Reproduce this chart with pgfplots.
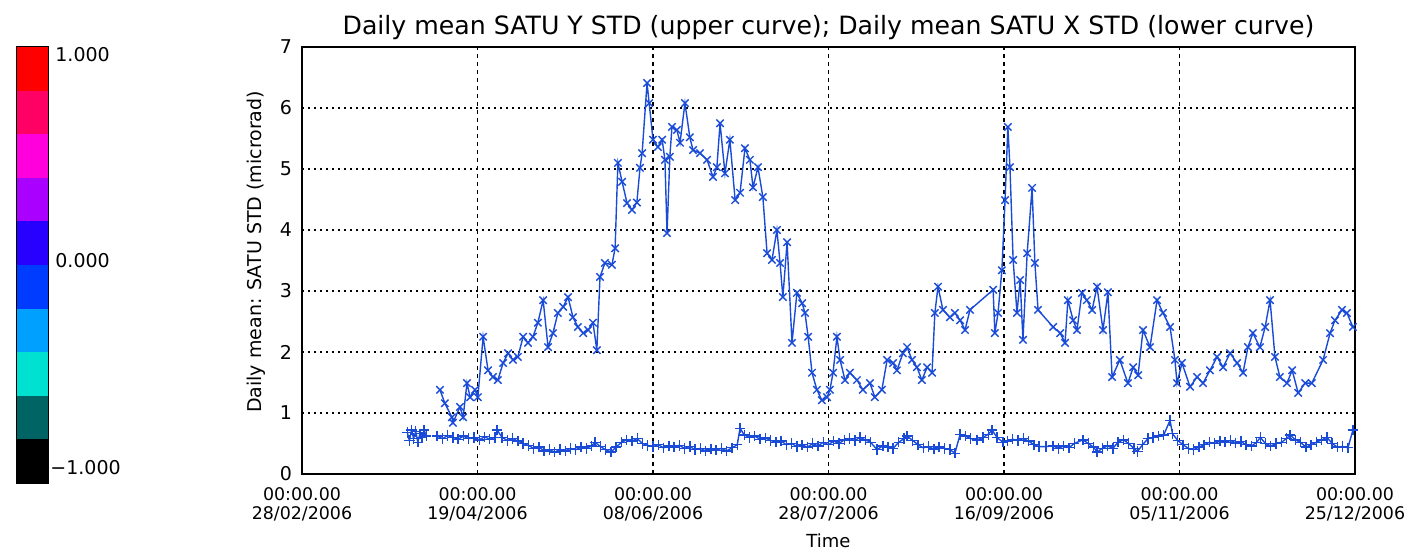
\documentclass[border=0pt]{standalone}
\usepackage{pgfplots}
\pgfplotsset{compat=1.18}
\usepackage{fontspec}
\setmainfont{DejaVu Sans}
\definecolor{ser}{RGB}{25,75,215}
\definecolor{cb1}{RGB}{255,0,0}
\definecolor{cb2}{RGB}{255,0,100}
\definecolor{cb3}{RGB}{255,0,220}
\definecolor{cb4}{RGB}{170,0,255}
\definecolor{cb5}{RGB}{40,0,255}
\definecolor{cb6}{RGB}{0,60,255}
\definecolor{cb7}{RGB}{0,160,255}
\definecolor{cb8}{RGB}{0,225,210}
\definecolor{cb9}{RGB}{0,100,100}
\definecolor{cb10}{RGB}{0,0,0}
\begin{document}
\begin{tikzpicture}
\path[use as bounding box] (0pt,0pt) rectangle (712.5pt,276.5pt);
% colour bar
\begin{axis}[at={(8.5pt,35pt)}, anchor=south west, scale only axis,
  width=15.5pt, height=218pt, xmin=0, xmax=1, ymin=-1, ymax=1,
  xtick=\empty, ytick={-0.5,0,0.5}, yticklabels={}, major tick length=2pt,
  tick style={black, line width=0.5pt}, axis line style={line width=0.7pt},
  clip=false]
\addplot[fill=cb10, draw=none] coordinates {(0,-1) (1,-1) (1,-0.8) (0,-0.8)} --cycle;
\addplot[fill=cb9, draw=none] coordinates {(0,-0.8) (1,-0.8) (1,-0.6) (0,-0.6)} --cycle;
\addplot[fill=cb8, draw=none] coordinates {(0,-0.6) (1,-0.6) (1,-0.4) (0,-0.4)} --cycle;
\addplot[fill=cb7, draw=none] coordinates {(0,-0.4) (1,-0.4) (1,-0.2) (0,-0.2)} --cycle;
\addplot[fill=cb6, draw=none] coordinates {(0,-0.2) (1,-0.2) (1,0) (0,0)} --cycle;
\addplot[fill=cb5, draw=none] coordinates {(0,0) (1,0) (1,0.2) (0,0.2)} --cycle;
\addplot[fill=cb4, draw=none] coordinates {(0,0.2) (1,0.2) (1,0.4) (0,0.4)} --cycle;
\addplot[fill=cb3, draw=none] coordinates {(0,0.4) (1,0.4) (1,0.6) (0,0.6)} --cycle;
\addplot[fill=cb2, draw=none] coordinates {(0,0.6) (1,0.6) (1,0.8) (0,0.8)} --cycle;
\addplot[fill=cb1, draw=none] coordinates {(0,0.8) (1,0.8) (1,1) (0,1)} --cycle;
\node[anchor=west, font=\fontsize{9.5}{10}\selectfont, inner sep=0pt] at (axis cs:1,0.963) {\hspace{3.5pt}1.000};
\node[anchor=west, font=\fontsize{9.5}{10}\selectfont, inner sep=0pt] at (axis cs:1,0.02) {\hspace{3.5pt}0.000};
\node[anchor=west, font=\fontsize{9.5}{10}\selectfont, inner sep=0pt] at (axis cs:1,-0.93) {\hspace{1pt}−1.000};
\end{axis}
% main plot
\begin{axis}[at={(151pt,39.5pt)}, anchor=south west, scale only axis,
  width=526.5pt, height=213.5pt,
  xmin=0, xmax=300, ymin=0, ymax=7,
  xtick={0,50,100,150,200,250,300},
  xticklabels={{00:00.00\\28/02/2006},{00:00.00\\19/04/2006},{00:00.00\\08/06/2006},{00:00.00\\28/07/2006},{00:00.00\\16/09/2006},{00:00.00\\05/11/2006},{00:00.00\\25/12/2006}},
  xticklabel style={align=center, font=\fontsize{8.7}{9.2}\selectfont, yshift=-3.5pt},
  ytick={0,1,2,3,4,5,6,7},
  yticklabel style={font=\fontsize{9.5}{10}\selectfont, xshift=-1.5pt},
  /pgf/number format/assume math mode=true,
  major tick length=0pt,
  xmajorgrids, ymajorgrids,
  x grid style={black, line width=0.8pt, dash pattern=on 2pt off 2pt},
  y grid style={black, line width=0.7pt, dash pattern=on 0.8pt off 2.2pt},
  axis line style={black, line width=0.75pt},
  title={Daily mean SATU Y STD (upper curve); Daily mean SATU X STD (lower curve)},
  title style={at={(rel axis cs:0.5,1)}, anchor=center, yshift=3.5pt, font=\fontsize{12.6}{14}\selectfont},
  xlabel={Time},
  xlabel style={at={(rel axis cs:0.5,0)}, anchor=center, yshift=-33.5pt, font=\fontsize{9}{10}\selectfont},
  ylabel={Daily mean: SATU STD (microrad)},
  ylabel style={at={(axis description cs:-0.0437,0.52)}, anchor=center, font=\fontsize{9.5}{11}\selectfont},
  unbounded coords=jump]
\addplot[ser, line width=0.7pt, mark=x, mark size=2.6pt, mark options={line width=0.7pt}] coordinates {
(39.3,1.38) (40.7,1.16) (42.7,0.93) (43.0,0.84) (45.0,1.10) (45.9,0.93) (47.0,1.49) (47.9,1.26) (49.3,1.38) (50.1,1.26)
(51.6,2.25) (53.0,1.70) (54.4,1.59) (55.8,1.54) (57.3,1.82) (58.7,1.98) (60.1,1.87) (61.5,1.92) (63.0,2.25) (64.4,2.15)
(65.8,2.25) (67.2,2.48) (68.7,2.85) (70.1,2.08) (71.5,2.31) (72.9,2.64) (74.4,2.74) (75.8,2.90) (77.2,2.57) (78.6,2.41)
(80.1,2.31) (81.5,2.36) (82.9,2.48) (84.0,2.03) (84.9,3.23) (86.3,3.46) (88.3,3.43) (89.2,3.70) (90.0,5.10) (91.2,4.79)
(92.6,4.44) (94.0,4.33) (95.4,4.45) (96.3,5.02) (96.9,5.26) (98.3,6.41) (98.9,6.08) (100.0,5.48) (101.4,5.36) (102.6,5.48)
(103.4,5.15) (104.0,3.95) (104.8,5.20) (105.4,5.69) (106.8,5.64) (107.7,5.43) (109.1,6.08) (110.5,5.52) (111.4,5.31) (113.4,5.26)
(115.4,5.15) (117.1,4.87) (118.2,5.03) (119.1,5.75) (120.5,4.93) (121.9,5.48) (123.4,4.49) (124.8,4.61) (126.2,5.34) (127.6,5.15)
(128.5,4.70) (129.9,5.03) (131.3,4.54) (132.5,3.62) (133.9,3.51) (135.3,4.00) (136.2,3.46) (137.0,2.90) (138.2,3.80) (139.6,2.15)
(141.0,2.97) (142.5,2.80) (143.3,2.64) (144.2,2.25) (145.3,1.66) (146.7,1.38) (148.1,1.21) (149.6,1.26) (150.4,1.38) (151.3,1.66)
(152.4,2.25) (153.3,1.87) (154.7,1.54) (156.1,1.66) (158.1,1.54) (159.8,1.38) (161.8,1.49) (163.2,1.26) (165.2,1.38) (166.7,1.87)
(168.4,1.82) (169.5,1.70) (171.2,1.98) (172.4,2.08) (173.8,1.87) (175.2,1.75) (176.6,1.54) (178.1,1.75) (179.5,1.66) (180.3,2.64)
(181.2,3.07) (182.6,2.69) (184.6,2.57) (186.0,2.64) (187.5,2.52) (188.9,2.36) (190.3,2.69) (196.9,3.02) (197.4,2.31) (198.3,2.64)
(199.4,3.34) (200.3,4.49) (201.1,5.69) (201.7,5.03) (202.6,3.51) (203.7,2.64) (204.6,3.18) (205.4,2.20) (206.6,3.62) (208.0,4.69)
(208.8,3.46) (209.7,2.69) (214.0,2.41) (216.0,2.31) (217.4,2.15) (218.2,2.85) (219.7,2.52) (220.8,2.36) (222.2,2.97) (223.6,2.85)
(225.1,2.69) (226.5,3.07) (228.2,2.36) (229.6,2.98) (230.8,1.59) (233.0,1.87) (235.3,1.49) (236.8,1.75) (238.2,1.62) (239.6,2.36)
(241.6,2.08) (243.6,2.85) (245.3,2.64) (247.3,2.41) (248.7,1.87) (249.3,1.49) (250.7,1.82) (253.0,1.43) (255.0,1.59) (256.7,1.49)
(258.7,1.70) (260.7,1.92) (262.4,1.75) (264.4,1.98) (266.4,1.82) (268.1,1.66) (269.5,2.08) (270.9,2.31) (272.9,2.08) (274.4,2.41)
(275.8,2.85) (277.2,1.92) (278.6,1.59) (280.6,1.49) (282.1,1.70) (283.8,1.33) (285.8,1.49) (287.7,1.49) (290.9,1.87) (292.9,2.31)
(294.3,2.52) (296.3,2.69) (297.7,2.64) (299.4,2.41)
};
\addplot[ser, line width=0.7pt, mark=+, mark size=2.6pt, mark options={line width=0.7pt}] coordinates {
(30.0,0.68) (30.6,0.55) (31.2,0.72) (31.8,0.58) (32.4,0.70) (33.0,0.52) (33.6,0.66) (34.2,0.60) (34.8,0.72) (35.4,0.62)
(37.0,nan)
(38.5,0.62) (40,0.58) (41.5,0.63) (43,0.60) (44.5,0.57) (46,0.62) (47.5,0.58) (49,0.60) (50.5,0.56) (52,0.61)
(53.5,0.57) (55,0.60) (55.6,0.72) (57,0.60) (58.5,0.55) (60,0.58) (61.5,0.54) (63,0.50) (64.5,0.47) (66,0.42)
(67.5,0.44) (69,0.38) (70.5,0.40) (72,0.36) (73.5,0.40) (75,0.38) (76.5,0.42) (78,0.40) (79.5,0.44) (81,0.42)
(82.5,0.46) (83.5,0.52) (85,0.45) (86.5,0.40) (88,0.36) (89.5,0.44) (91,0.52) (92.5,0.56) (94,0.54) (95.5,0.58)
(97,0.50) (98.5,0.47) (100,0.45) (101.5,0.48) (103,0.43) (104.5,0.46) (106,0.44) (107.5,0.47) (109,0.42) (110.5,0.45)
(112,0.40) (113.5,0.42) (115,0.38) (116.5,0.41) (118,0.39) (119.5,0.42) (121,0.38) (122.5,0.43) (124,0.48) (124.8,0.75)
(126,0.64) (127.5,0.60) (129,0.62) (130.5,0.57) (132,0.59) (133.5,0.55) (135,0.52) (136.5,0.54) (138,0.48) (139.5,0.50)
(141,0.45) (142.5,0.48) (144,0.44) (145.5,0.50) (147,0.46) (148.5,0.52) (150,0.48) (151.5,0.54) (153,0.50) (154.5,0.56)
(156,0.58) (157.5,0.55) (159,0.60) (160.5,0.56) (162,0.52) (163.8,0.40) (165.5,0.46) (167,0.44) (168.4,0.42) (170,0.52)
(171.5,0.58) (172.4,0.62) (174,0.55) (175.5,0.48) (177,0.43) (178.5,0.45) (180,0.41) (181.5,0.44) (183,0.42) (184.6,0.40)
(186,0.34) (187.5,0.65) (189,0.62) (190.5,0.58) (192.3,0.56) (194,0.60) (195.5,0.65) (196.6,0.72) (198,0.60) (199.7,0.52)
(201,0.54) (202.5,0.57) (204,0.55) (205.5,0.58) (207,0.54) (208.5,0.48) (210,0.45) (212,0.45) (214,0.46) (215.5,0.42)
(217,0.46) (218.5,0.43) (220,0.50) (222.5,0.56) (224,0.50) (225.5,0.44) (226.5,0.36) (228,0.42) (229.5,0.46) (231,0.42)
(232.5,0.52) (234,0.56) (235.5,0.50) (237,0.42) (238,0.37) (239.5,0.48) (241,0.58) (242.5,0.60) (244,0.62) (245.5,0.64)
(247.3,0.88) (248,0.66) (249.5,0.55) (251,0.48) (252.5,0.42) (254,0.40) (255.5,0.44) (257,0.48) (258.5,0.52) (260,0.50)
(261.5,0.54) (263,0.52) (264.5,0.55) (266,0.51) (267.5,0.53) (269,0.48) (270.5,0.46) (272,0.52) (273,0.60) (274.5,0.50)
(276,0.46) (277.5,0.50) (279,0.52) (280.5,0.58) (281.5,0.64) (283,0.56) (284.5,0.52) (286,0.44) (287.5,0.48) (289,0.52)
(290.5,0.56) (292,0.60) (293.5,0.50) (295,0.44) (296.5,0.45) (298,0.43) (299.4,0.72)
};
\end{axis}
\end{tikzpicture}
\end{document}
